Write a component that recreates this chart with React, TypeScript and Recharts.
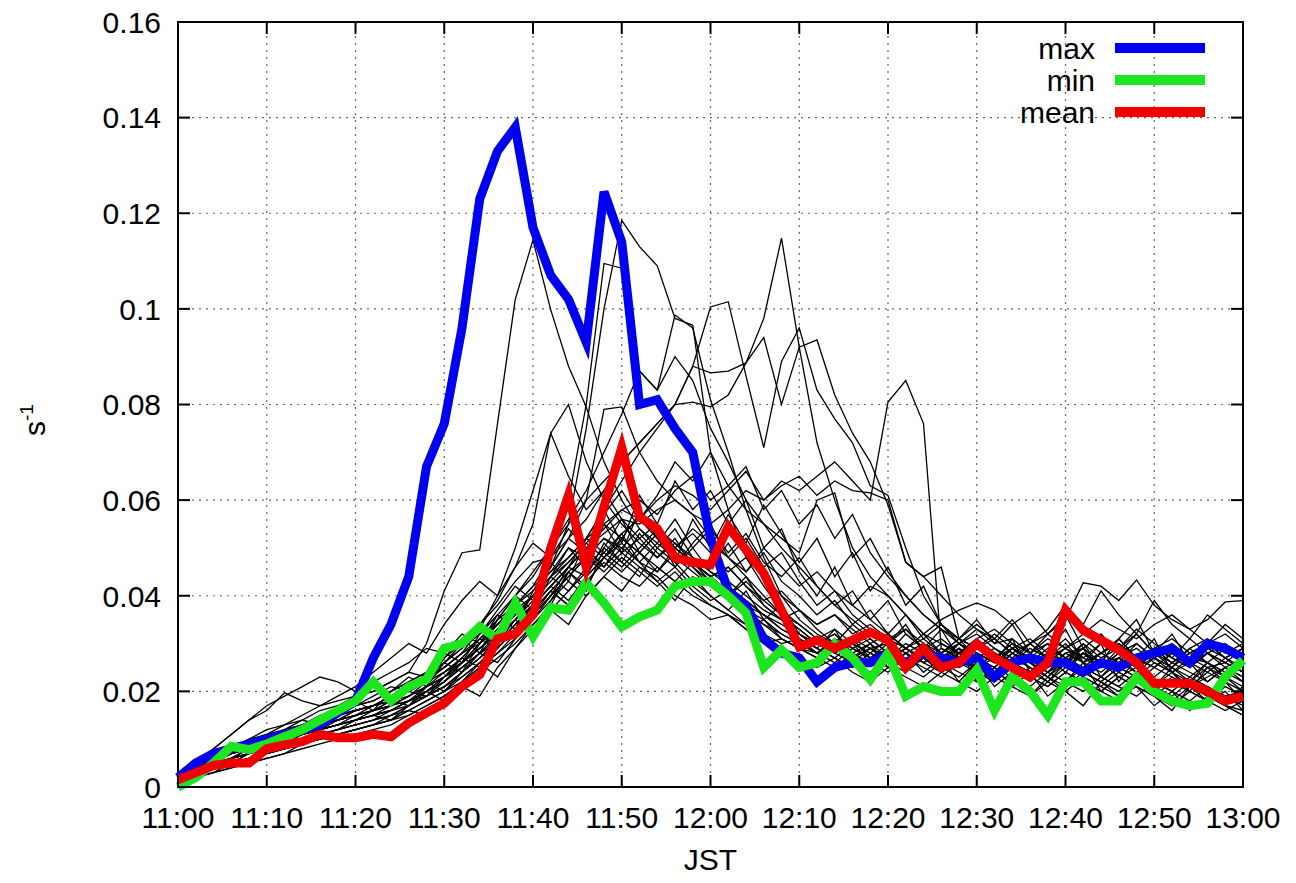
import React from 'react';
import { CartesianGrid, Legend, Line, LineChart, ReferenceArea, XAxis, YAxis } from 'recharts';

// minutes after 11:00 JST, one sample every 2 min
const minutes = [
	0, 2, 4, 6, 8, 10, 12, 14, 16, 18, 20, 22, 24, 26, 28, 30, 32, 34, 36, 38, 40,
	42, 44, 46, 48, 50, 52, 54, 56, 58, 60, 62, 64, 66, 68, 70, 72, 74, 76, 78, 80,
	82, 84, 86, 88, 90, 92, 94, 96, 98, 100, 102, 104, 106, 108, 110, 112, 114, 116, 118, 120,
];
const timeTicks = [0, 10, 20, 30, 40, 50, 60, 70, 80, 90, 100, 110, 120];
const timeLabels = ['11:00', '11:10', '11:20', '11:30', '11:40', '11:50', '12:00', '12:10', '12:20', '12:30', '12:40', '12:50', '13:00'];
const yTicks = [0, 0.02, 0.04, 0.06, 0.08, 0.1, 0.12, 0.14, 0.16];
const yTickLabels = ['0', '0.02', '0.04', '0.06', '0.08', '0.1', '0.12', '0.14', '0.16'];
const legendOrder = ['max', 'min', 'mean'];

const maxSeries = [
	0.002, 0.005, 0.007, 0.008, 0.009, 0.010, 0.011, 0.012, 0.013, 0.0155, 0.018,
	0.027, 0.034, 0.044, 0.067, 0.076, 0.096, 0.123, 0.133, 0.138, 0.117,
	0.107, 0.102, 0.093, 0.1245, 0.114, 0.080, 0.081, 0.075, 0.070, 0.052,
	0.041, 0.038, 0.031, 0.028, 0.027,
	0.022, 0.025, 0.026, 0.026, 0.028, 0.026, 0.028, 0.027, 0.026, 0.027,
	0.023, 0.026, 0.027, 0.026, 0.026, 0.024, 0.026, 0.025, 0.027, 0.028, 0.029, 0.026, 0.030, 0.029, 0.027,
];
const minSeries = [
	0.000, 0.002, 0.005, 0.0085, 0.0078, 0.009, 0.0105, 0.012, 0.014, 0.016, 0.018,
	0.022, 0.018, 0.021, 0.0225, 0.029, 0.030, 0.0335, 0.031, 0.0385, 0.0315,
	0.0375, 0.037, 0.0427, 0.0385, 0.0335, 0.0356, 0.037, 0.042, 0.043, 0.043,
	0.040, 0.0364, 0.025, 0.0287, 0.025,
	0.026, 0.030, 0.027, 0.0225, 0.028, 0.019, 0.021, 0.020, 0.020, 0.0245,
	0.016, 0.023, 0.020, 0.015, 0.022, 0.022, 0.018, 0.018, 0.023, 0.020, 0.018, 0.017, 0.0175, 0.023, 0.0265,
];
const meanSeries = [
	0.0015, 0.003, 0.0045, 0.005, 0.005, 0.008, 0.0088, 0.0095, 0.011, 0.0103, 0.0103,
	0.011, 0.0105, 0.0134, 0.0155, 0.0175, 0.021, 0.0235, 0.031, 0.032, 0.036,
	0.050, 0.061, 0.046, 0.0586, 0.071, 0.0565, 0.054, 0.048, 0.047, 0.0465,
	0.0544, 0.0496, 0.0447, 0.037, 0.0293,
	0.0307, 0.029, 0.0307, 0.0324, 0.0307, 0.025, 0.029, 0.025, 0.026, 0.030,
	0.027, 0.025, 0.023, 0.026, 0.037, 0.0328, 0.0307, 0.0287, 0.026, 0.0217, 0.0217, 0.0217, 0.020, 0.018, 0.019,
];

// individual members (thin black lines)
const member01 = [
	0.002, 0.005, 0.008, 0.011, 0.014, 0.017, 0.019, 0.021, 0.023, 0.022, 0.020,
	0.022, 0.024, 0.026, 0.029, 0.028, 0.032, 0.030, 0.034, 0.038, 0.042,
	0.045, 0.050, 0.048, 0.052, 0.049, 0.046, 0.044, 0.040, 0.038, 0.035,
	0.036, 0.033, 0.030, 0.031, 0.029,
	0.028, 0.031, 0.027, 0.029, 0.030, 0.026, 0.028, 0.027, 0.029, 0.025,
	0.027, 0.030, 0.026, 0.024, 0.028, 0.029, 0.026, 0.027, 0.025, 0.028, 0.030, 0.027, 0.026, 0.029, 0.028,
];
const member02 = [
	0.002, 0.004, 0.006, 0.008, 0.010, 0.011, 0.013, 0.014, 0.016, 0.017, 0.019,
	0.020, 0.022, 0.024, 0.030, 0.041, 0.049, 0.0496, 0.076, 0.102, 0.1144,
	0.0998, 0.088, 0.0795, 0.068, 0.060, 0.054, 0.050, 0.047, 0.043, 0.040,
	0.037, 0.034, 0.032, 0.030, 0.031,
	0.028, 0.030, 0.027, 0.029, 0.026, 0.028, 0.030, 0.027, 0.025, 0.028,
	0.026, 0.029, 0.027, 0.024, 0.026, 0.028, 0.025, 0.027, 0.029, 0.026, 0.024, 0.027, 0.025, 0.026, 0.024,
];
const member03 = [
	0.001, 0.003, 0.005, 0.006, 0.007, 0.008, 0.010, 0.011, 0.012, 0.013, 0.014,
	0.015, 0.016, 0.018, 0.020, 0.022, 0.026, 0.030, 0.033, 0.036, 0.040,
	0.046, 0.055, 0.075, 0.100, 0.1185, 0.113, 0.109, 0.098, 0.0966, 0.070,
	0.058, 0.048, 0.042, 0.037, 0.034,
	0.031, 0.028, 0.030, 0.026, 0.028, 0.025, 0.027, 0.024, 0.026, 0.025,
	0.023, 0.025, 0.027, 0.024, 0.022, 0.025, 0.023, 0.021, 0.024, 0.022, 0.020, 0.023, 0.021, 0.019, 0.020,
];
const member04 = [
	0.002, 0.004, 0.006, 0.007, 0.009, 0.010, 0.011, 0.012, 0.013, 0.015, 0.016,
	0.017, 0.019, 0.021, 0.023, 0.025, 0.028, 0.030, 0.035, 0.038, 0.042,
	0.048, 0.060, 0.080, 0.1095, 0.1085, 0.087, 0.083, 0.0987, 0.096, 0.081,
	0.070, 0.058, 0.048, 0.040, 0.035,
	0.032, 0.030, 0.031, 0.027, 0.029, 0.026, 0.030, 0.027, 0.025, 0.028,
	0.026, 0.029, 0.027, 0.030, 0.025, 0.028, 0.026, 0.031, 0.027, 0.029, 0.026, 0.028, 0.030, 0.027, 0.029,
];
const member05 = [
	0.002, 0.004, 0.005, 0.007, 0.008, 0.009, 0.010, 0.012, 0.013, 0.014, 0.015,
	0.016, 0.017, 0.019, 0.021, 0.023, 0.025, 0.028, 0.030, 0.033, 0.036,
	0.040, 0.046, 0.052, 0.058, 0.064, 0.070, 0.075, 0.080, 0.088, 0.0866,
	0.087, 0.0887, 0.098, 0.1148, 0.092,
	0.072, 0.060, 0.050, 0.044, 0.040, 0.036, 0.032, 0.030, 0.028, 0.031,
	0.028, 0.026, 0.029, 0.027, 0.030, 0.026, 0.028, 0.031, 0.027, 0.025, 0.028, 0.026, 0.029, 0.027, 0.024,
];
const member06 = [
	0.001, 0.003, 0.005, 0.006, 0.008, 0.009, 0.011, 0.012, 0.014, 0.015, 0.017,
	0.018, 0.020, 0.022, 0.024, 0.027, 0.030, 0.034, 0.038, 0.043, 0.047,
	0.048, 0.052, 0.056, 0.062, 0.068, 0.072, 0.076, 0.080, 0.088, 0.1004,
	0.1015, 0.086, 0.071, 0.089, 0.096,
	0.083, 0.077, 0.072, 0.063, 0.061, 0.050, 0.040, 0.034, 0.031, 0.029,
	0.032, 0.029, 0.031, 0.028, 0.026, 0.030, 0.027, 0.029, 0.032, 0.028, 0.026, 0.029, 0.031, 0.028, 0.030,
];
const member07 = [
	0.002, 0.003, 0.005, 0.007, 0.008, 0.010, 0.011, 0.012, 0.013, 0.014, 0.016,
	0.017, 0.018, 0.020, 0.022, 0.024, 0.027, 0.031, 0.035, 0.040, 0.044,
	0.050, 0.055, 0.060, 0.064, 0.068, 0.072, 0.076, 0.080, 0.0805, 0.0795,
	0.082, 0.0887, 0.094, 0.080, 0.092,
	0.0935, 0.082, 0.074, 0.068, 0.059, 0.047, 0.044, 0.040, 0.036, 0.033,
	0.030, 0.031, 0.028, 0.030, 0.027, 0.029, 0.032, 0.028, 0.030, 0.027, 0.029, 0.026, 0.028, 0.030, 0.027,
];
const member08 = [
	0.002, 0.004, 0.006, 0.007, 0.009, 0.010, 0.011, 0.013, 0.014, 0.015, 0.016,
	0.017, 0.019, 0.020, 0.022, 0.024, 0.026, 0.029, 0.032, 0.035, 0.038,
	0.042, 0.046, 0.050, 0.053, 0.056, 0.055, 0.058, 0.060, 0.057, 0.055,
	0.058, 0.062, 0.060, 0.064, 0.062,
	0.065, 0.068, 0.064, 0.060, 0.0805, 0.085, 0.076, 0.029, 0.027, 0.025,
	0.028, 0.026, 0.024, 0.027, 0.025, 0.028, 0.026, 0.023, 0.025, 0.027, 0.024, 0.026, 0.022, 0.025, 0.023,
];
const member09 = [
	0.002, 0.004, 0.005, 0.007, 0.008, 0.009, 0.011, 0.012, 0.013, 0.015, 0.016,
	0.017, 0.018, 0.020, 0.022, 0.025, 0.028, 0.033, 0.040, 0.050, 0.062,
	0.074, 0.080, 0.068, 0.060, 0.055, 0.051, 0.048, 0.052, 0.046, 0.042,
	0.039, 0.036, 0.034, 0.031, 0.029,
	0.027, 0.029, 0.026, 0.024, 0.027, 0.025, 0.023, 0.026, 0.028, 0.024,
	0.022, 0.025, 0.023, 0.021, 0.024, 0.022, 0.020, 0.023, 0.021, 0.019, 0.022, 0.020, 0.018, 0.021, 0.019,
];
const member10 = [
	0.001, 0.003, 0.004, 0.006, 0.007, 0.009, 0.010, 0.011, 0.012, 0.013, 0.014,
	0.015, 0.017, 0.018, 0.020, 0.022, 0.025, 0.028, 0.031, 0.035, 0.040,
	0.046, 0.052, 0.060, 0.079, 0.0795, 0.070, 0.064, 0.060, 0.057, 0.052,
	0.048, 0.044, 0.040, 0.036, 0.033,
	0.030, 0.032, 0.028, 0.030, 0.027, 0.029, 0.026, 0.028, 0.025, 0.027,
	0.024, 0.026, 0.023, 0.025, 0.027, 0.024, 0.022, 0.025, 0.023, 0.026, 0.024, 0.021, 0.023, 0.025, 0.022,
];
const member11 = [
	0.002, 0.004, 0.006, 0.008, 0.009, 0.010, 0.012, 0.013, 0.014, 0.016, 0.017,
	0.018, 0.020, 0.022, 0.024, 0.026, 0.029, 0.032, 0.036, 0.040, 0.045,
	0.050, 0.056, 0.062, 0.070, 0.078, 0.087, 0.083, 0.090, 0.085, 0.075,
	0.068, 0.060, 0.055, 0.050, 0.046,
	0.042, 0.038, 0.035, 0.032, 0.030, 0.033, 0.029, 0.031, 0.028, 0.030,
	0.027, 0.029, 0.026, 0.028, 0.031, 0.027, 0.025, 0.028, 0.026, 0.029, 0.027, 0.025, 0.028, 0.026, 0.024,
];
const member12 = [
	0.002, 0.003, 0.005, 0.006, 0.008, 0.009, 0.010, 0.011, 0.013, 0.014, 0.015,
	0.016, 0.018, 0.019, 0.021, 0.023, 0.026, 0.029, 0.032, 0.036, 0.040,
	0.044, 0.048, 0.052, 0.055, 0.058, 0.060, 0.057, 0.062, 0.065, 0.060,
	0.063, 0.058, 0.055, 0.052, 0.049,
	0.060, 0.0615, 0.048, 0.052, 0.045, 0.040, 0.036, 0.033, 0.031, 0.034,
	0.031, 0.028, 0.030, 0.027, 0.029, 0.026, 0.028, 0.030, 0.027, 0.025, 0.028, 0.026, 0.024, 0.027, 0.025,
];
const member13 = [
	0.001, 0.003, 0.004, 0.006, 0.007, 0.008, 0.010, 0.011, 0.012, 0.013, 0.014,
	0.015, 0.016, 0.018, 0.019, 0.021, 0.024, 0.027, 0.030, 0.034, 0.038,
	0.042, 0.046, 0.050, 0.054, 0.058, 0.056, 0.060, 0.063, 0.061, 0.058,
	0.062, 0.066, 0.060, 0.063, 0.065,
	0.061, 0.064, 0.062, 0.0615, 0.060, 0.047, 0.044, 0.046, 0.031, 0.029,
	0.031, 0.028, 0.026, 0.029, 0.027, 0.025, 0.028, 0.026, 0.030, 0.027, 0.025, 0.028, 0.026, 0.024, 0.027,
];
const member14 = [
	0.002, 0.004, 0.005, 0.007, 0.008, 0.010, 0.011, 0.012, 0.014, 0.015, 0.016,
	0.017, 0.019, 0.021, 0.023, 0.025, 0.028, 0.031, 0.034, 0.038, 0.041,
	0.045, 0.048, 0.052, 0.049, 0.053, 0.056, 0.052, 0.050, 0.054, 0.051,
	0.048, 0.045, 0.050, 0.046, 0.042,
	0.045, 0.041, 0.038, 0.042, 0.040, 0.036, 0.032, 0.035, 0.037, 0.0385,
	0.037, 0.034, 0.0366, 0.032, 0.029, 0.031, 0.028, 0.030, 0.027, 0.029, 0.031, 0.028, 0.030, 0.027, 0.029,
];
const member15 = [
	0.002, 0.003, 0.005, 0.006, 0.007, 0.009, 0.010, 0.011, 0.012, 0.014, 0.015,
	0.016, 0.017, 0.019, 0.021, 0.023, 0.026, 0.029, 0.033, 0.037, 0.040,
	0.044, 0.047, 0.051, 0.048, 0.052, 0.049, 0.053, 0.050, 0.047, 0.044,
	0.046, 0.042, 0.039, 0.041, 0.037,
	0.034, 0.036, 0.033, 0.030, 0.032, 0.029, 0.031, 0.028, 0.030, 0.032,
	0.029, 0.027, 0.030, 0.032, 0.035, 0.0427, 0.042, 0.039, 0.0433, 0.038, 0.035, 0.033, 0.030, 0.032, 0.029,
];
const member16 = [
	0.001, 0.003, 0.004, 0.006, 0.007, 0.008, 0.009, 0.011, 0.012, 0.013, 0.014,
	0.015, 0.016, 0.017, 0.019, 0.021, 0.023, 0.026, 0.029, 0.033, 0.037,
	0.041, 0.045, 0.048, 0.052, 0.050, 0.054, 0.051, 0.048, 0.045, 0.042,
	0.040, 0.043, 0.039, 0.036, 0.034,
	0.031, 0.033, 0.030, 0.028, 0.031, 0.029, 0.027, 0.030, 0.028, 0.031,
	0.033, 0.030, 0.028, 0.031, 0.029, 0.032, 0.035, 0.033, 0.031, 0.034, 0.036, 0.033, 0.035, 0.0387, 0.039,
];
const member17 = [
	0.002, 0.003, 0.004, 0.005, 0.006, 0.007, 0.008, 0.009, 0.010, 0.011, 0.012,
	0.013, 0.014, 0.016, 0.018, 0.020, 0.023, 0.026, 0.030, 0.034, 0.038,
	0.042, 0.046, 0.044, 0.048, 0.051, 0.047, 0.045, 0.049, 0.046, 0.043,
	0.040, 0.037, 0.034, 0.032, 0.030,
	0.028, 0.026, 0.029, 0.027, 0.025, 0.028, 0.026, 0.024, 0.027, 0.025,
	0.023, 0.026, 0.024, 0.022, 0.025, 0.023, 0.021, 0.024, 0.022, 0.020, 0.023, 0.021, 0.019, 0.017, 0.016,
];
const member18 = [
	0.001, 0.002, 0.004, 0.005, 0.006, 0.007, 0.008, 0.009, 0.010, 0.011, 0.012,
	0.013, 0.015, 0.017, 0.019, 0.022, 0.025, 0.028, 0.032, 0.036, 0.040,
	0.044, 0.041, 0.046, 0.050, 0.047, 0.053, 0.049, 0.046, 0.050, 0.045,
	0.042, 0.039, 0.036, 0.033, 0.031,
	0.029, 0.027, 0.025, 0.028, 0.026, 0.024, 0.027, 0.025, 0.023, 0.026,
	0.024, 0.022, 0.025, 0.023, 0.021, 0.024, 0.022, 0.020, 0.023, 0.021, 0.019, 0.022, 0.020, 0.018, 0.021,
];
const member19 = [
	0.002, 0.003, 0.005, 0.006, 0.007, 0.008, 0.009, 0.010, 0.011, 0.012, 0.013,
	0.014, 0.016, 0.018, 0.020, 0.023, 0.026, 0.030, 0.034, 0.038, 0.035,
	0.040, 0.044, 0.048, 0.045, 0.049, 0.052, 0.048, 0.051, 0.047, 0.044,
	0.046, 0.042, 0.038, 0.035, 0.033,
	0.030, 0.032, 0.029, 0.031, 0.028, 0.026, 0.029, 0.027, 0.030, 0.028,
	0.026, 0.029, 0.027, 0.025, 0.028, 0.026, 0.024, 0.027, 0.025, 0.023, 0.026, 0.024, 0.022, 0.025, 0.023,
];
const member20 = [
	0.001, 0.003, 0.004, 0.005, 0.007, 0.008, 0.009, 0.010, 0.011, 0.012, 0.013,
	0.014, 0.015, 0.017, 0.019, 0.021, 0.024, 0.027, 0.031, 0.035, 0.039,
	0.043, 0.047, 0.051, 0.055, 0.052, 0.057, 0.054, 0.050, 0.053, 0.049,
	0.045, 0.048, 0.044, 0.040, 0.037,
	0.034, 0.036, 0.032, 0.034, 0.031, 0.033, 0.030, 0.028, 0.031, 0.029,
	0.027, 0.030, 0.028, 0.026, 0.029, 0.027, 0.030, 0.028, 0.026, 0.029, 0.027, 0.025, 0.028, 0.026, 0.029,
];
const member21 = [
	0.002, 0.004, 0.005, 0.006, 0.008, 0.009, 0.010, 0.011, 0.012, 0.013, 0.014,
	0.015, 0.016, 0.018, 0.021, 0.024, 0.027, 0.031, 0.029, 0.033, 0.037,
	0.041, 0.038, 0.043, 0.047, 0.044, 0.042, 0.046, 0.043, 0.040, 0.038,
	0.036, 0.034, 0.031, 0.029, 0.027,
	0.025, 0.027, 0.024, 0.022, 0.025, 0.023, 0.021, 0.024, 0.022, 0.020,
	0.023, 0.021, 0.019, 0.022, 0.020, 0.023, 0.021, 0.019, 0.022, 0.020, 0.018, 0.021, 0.019, 0.017, 0.015,
];
const member22 = [
	0.001, 0.002, 0.003, 0.005, 0.006, 0.007, 0.008, 0.009, 0.010, 0.011, 0.012,
	0.013, 0.014, 0.015, 0.017, 0.019, 0.022, 0.025, 0.028, 0.032, 0.036,
	0.040, 0.044, 0.048, 0.046, 0.050, 0.047, 0.043, 0.046, 0.042, 0.039,
	0.041, 0.037, 0.035, 0.032, 0.030,
	0.028, 0.031, 0.029, 0.027, 0.030, 0.028, 0.026, 0.029, 0.027, 0.025,
	0.028, 0.026, 0.024, 0.027, 0.025, 0.028, 0.026, 0.024, 0.022, 0.025, 0.023, 0.021, 0.024, 0.022, 0.020,
];
const member23 = [
	0.002, 0.005, 0.008, 0.011, 0.014, 0.016, 0.0197, 0.018, 0.017, 0.018, 0.019,
	0.020, 0.022, 0.024, 0.023, 0.026, 0.029, 0.032, 0.036, 0.033, 0.038,
	0.042, 0.039, 0.044, 0.048, 0.045, 0.049, 0.046, 0.043, 0.047, 0.044,
	0.041, 0.038, 0.036, 0.033, 0.031,
	0.029, 0.027, 0.030, 0.028, 0.026, 0.029, 0.027, 0.025, 0.028, 0.026,
	0.024, 0.027, 0.025, 0.023, 0.026, 0.024, 0.022, 0.025, 0.023, 0.021, 0.024, 0.022, 0.025, 0.023, 0.021,
];
const member24 = [
	0.001, 0.002, 0.003, 0.004, 0.005, 0.006, 0.007, 0.008, 0.009, 0.010, 0.011,
	0.012, 0.013, 0.015, 0.017, 0.019, 0.021, 0.024, 0.027, 0.030, 0.034,
	0.037, 0.041, 0.045, 0.049, 0.046, 0.050, 0.054, 0.051, 0.048, 0.045,
	0.043, 0.040, 0.037, 0.035, 0.032,
	0.030, 0.028, 0.026, 0.029, 0.027, 0.025, 0.028, 0.026, 0.024, 0.022,
	0.025, 0.023, 0.021, 0.024, 0.022, 0.020, 0.023, 0.021, 0.019, 0.022, 0.020, 0.018, 0.021, 0.019, 0.017,
];
const member25 = [
	0.002, 0.003, 0.004, 0.006, 0.007, 0.008, 0.009, 0.010, 0.011, 0.012, 0.013,
	0.014, 0.015, 0.016, 0.018, 0.020, 0.022, 0.025, 0.028, 0.031, 0.035,
	0.039, 0.043, 0.040, 0.044, 0.048, 0.045, 0.042, 0.045, 0.041, 0.038,
	0.036, 0.033, 0.035, 0.031, 0.029,
	0.027, 0.025, 0.028, 0.026, 0.024, 0.027, 0.025, 0.023, 0.026, 0.024,
	0.022, 0.025, 0.023, 0.021, 0.024, 0.022, 0.020, 0.023, 0.021, 0.019, 0.017, 0.020, 0.018, 0.016, 0.018,
];
const member26 = [
	0.002, 0.004, 0.005, 0.007, 0.008, 0.009, 0.011, 0.012, 0.013, 0.014, 0.016,
	0.017, 0.019, 0.021, 0.023, 0.026, 0.030, 0.034, 0.039, 0.046, 0.055,
	0.074, 0.065, 0.058, 0.062, 0.056, 0.052, 0.055, 0.050, 0.047, 0.044,
	0.041, 0.039, 0.036, 0.034, 0.032,
	0.030, 0.028, 0.031, 0.029, 0.027, 0.030, 0.028, 0.026, 0.029, 0.027,
	0.025, 0.028, 0.026, 0.024, 0.027, 0.025, 0.023, 0.026, 0.024, 0.027, 0.025, 0.023, 0.026, 0.024, 0.022,
];
const member27 = [
	0.001, 0.003, 0.004, 0.005, 0.007, 0.008, 0.009, 0.010, 0.012, 0.013, 0.014,
	0.016, 0.018, 0.017, 0.021, 0.026, 0.024, 0.030, 0.036, 0.033, 0.041,
	0.047, 0.043, 0.052, 0.058, 0.051, 0.061, 0.055, 0.064, 0.058, 0.062,
	0.055, 0.060, 0.050, 0.054, 0.045,
	0.040, 0.046, 0.038, 0.035, 0.039, 0.032, 0.029, 0.033, 0.027, 0.030,
	0.026, 0.031, 0.024, 0.028, 0.033, 0.026, 0.030, 0.022, 0.027, 0.031, 0.024, 0.020, 0.025, 0.022, 0.018,
];
const member28 = [
	0.002, 0.004, 0.006, 0.007, 0.009, 0.011, 0.012, 0.014, 0.013, 0.016, 0.018,
	0.016, 0.020, 0.023, 0.021, 0.027, 0.031, 0.028, 0.035, 0.040, 0.037,
	0.044, 0.050, 0.046, 0.055, 0.049, 0.058, 0.052, 0.047, 0.056, 0.050,
	0.057, 0.051, 0.059, 0.053, 0.047,
	0.052, 0.044, 0.049, 0.041, 0.046, 0.038, 0.042, 0.034, 0.031, 0.035,
	0.030, 0.034, 0.028, 0.032, 0.036, 0.029, 0.026, 0.031, 0.035, 0.028, 0.032, 0.026, 0.030, 0.034, 0.031,
];
const member29 = [
	0.001, 0.002, 0.004, 0.005, 0.006, 0.008, 0.009, 0.010, 0.011, 0.012, 0.014,
	0.015, 0.014, 0.017, 0.020, 0.018, 0.022, 0.026, 0.023, 0.029, 0.034,
	0.038, 0.045, 0.041, 0.050, 0.056, 0.049, 0.053, 0.046, 0.051, 0.055,
	0.048, 0.052, 0.046, 0.049, 0.043,
	0.038, 0.041, 0.036, 0.033, 0.030, 0.034, 0.028, 0.025, 0.029, 0.022,
	0.025, 0.021, 0.024, 0.019, 0.022, 0.026, 0.020, 0.018, 0.023, 0.019, 0.016, 0.021, 0.018, 0.020, 0.016,
];
const member30 = [
	0.002, 0.004, 0.005, 0.007, 0.008, 0.010, 0.012, 0.013, 0.015, 0.016, 0.017,
	0.019, 0.021, 0.020, 0.024, 0.028, 0.026, 0.032, 0.037, 0.042, 0.039,
	0.046, 0.052, 0.049, 0.057, 0.062, 0.056, 0.061, 0.068, 0.064, 0.070,
	0.063, 0.067, 0.058, 0.062, 0.055,
	0.059, 0.052, 0.057, 0.049, 0.044, 0.040, 0.036, 0.033, 0.030, 0.027,
	0.029, 0.026, 0.030, 0.027, 0.024, 0.028, 0.025, 0.029, 0.033, 0.030, 0.027, 0.031, 0.028, 0.025, 0.027,
];
const member31 = [
	0.001, 0.002, 0.003, 0.004, 0.005, 0.006, 0.007, 0.009, 0.010, 0.011, 0.012,
	0.013, 0.014, 0.016, 0.015, 0.018, 0.021, 0.019, 0.025, 0.029, 0.033,
	0.037, 0.034, 0.040, 0.044, 0.041, 0.046, 0.043, 0.039, 0.044, 0.040,
	0.037, 0.041, 0.035, 0.038, 0.032,
	0.029, 0.033, 0.027, 0.030, 0.025, 0.028, 0.024, 0.027, 0.022, 0.026,
	0.021, 0.024, 0.019, 0.023, 0.020, 0.017, 0.022, 0.019, 0.021, 0.017, 0.020, 0.016, 0.019, 0.017, 0.015,
];
const member32 = [
	0.002, 0.003, 0.005, 0.006, 0.008, 0.009, 0.010, 0.012, 0.013, 0.014, 0.015,
	0.017, 0.018, 0.020, 0.019, 0.023, 0.027, 0.025, 0.030, 0.035, 0.032,
	0.039, 0.045, 0.042, 0.048, 0.053, 0.047, 0.051, 0.056, 0.050, 0.054,
	0.049, 0.053, 0.047, 0.044, 0.048,
	0.042, 0.038, 0.041, 0.035, 0.032, 0.036, 0.031, 0.034, 0.030, 0.033,
	0.031, 0.035, 0.030, 0.033, 0.038, 0.034, 0.041, 0.036, 0.032, 0.039, 0.034, 0.031, 0.036, 0.033, 0.030,
];
const member33 = [
	0.001, 0.003, 0.005, 0.006, 0.007, 0.008, 0.010, 0.011, 0.012, 0.013, 0.015,
	0.016, 0.017, 0.019, 0.022, 0.020, 0.024, 0.028, 0.026, 0.031, 0.036,
	0.041, 0.038, 0.044, 0.051, 0.047, 0.044, 0.050, 0.054, 0.048, 0.046,
	0.051, 0.045, 0.049, 0.043, 0.040,
	0.036, 0.039, 0.034, 0.037, 0.032, 0.029, 0.032, 0.028, 0.031, 0.027,
	0.024, 0.028, 0.025, 0.022, 0.026, 0.029, 0.023, 0.027, 0.024, 0.021, 0.025, 0.022, 0.026, 0.023, 0.020,
];
const member34 = [
	0.002, 0.004, 0.006, 0.008, 0.010, 0.012, 0.013, 0.015, 0.017, 0.019, 0.021,
	0.024, 0.027, 0.030, 0.028, 0.034, 0.039, 0.043, 0.040, 0.046, 0.051,
	0.048, 0.054, 0.050, 0.046, 0.052, 0.049, 0.045, 0.050, 0.047, 0.043,
	0.040, 0.044, 0.038, 0.035, 0.037,
	0.033, 0.030, 0.034, 0.031, 0.028, 0.032, 0.029, 0.026, 0.030, 0.027,
	0.025, 0.029, 0.026, 0.023, 0.027, 0.030, 0.025, 0.028, 0.032, 0.028, 0.025, 0.029, 0.026, 0.023, 0.026,
];

const members = [
	member01, member02, member03, member04, member05, member06, member07, member08, member09,
	member10, member11, member12, member13, member14, member15, member16, member17, member18,
	member19, member20, member21, member22, member23, member24, member25, member26, member27,
	member28, member29, member30, member31, member32, member33, member34,
];

const data = minutes.map((t, i) => {
	const row: Record<string, number> = { t, max: maxSeries[i], min: minSeries[i], mean: meanSeries[i] };
	members.forEach((m, k) => {
		row['m' + k] = m[i];
	});
	return row;
});

// layout (the chart is pulled up over the body margin so the top label has room)
const CHART_W = 1280;
const CHART_H = 883;
const MARGIN = { top: 22, right: 45, bottom: 0, left: 0 };
const Y_AXIS_W = 170;
const X_AXIS_H = 96;
const PLOT_TOP = MARGIN.top;
const PLOT_RIGHT = CHART_W - MARGIN.right;
const TICK_LEN = 12;
const FONT = '"Liberation Sans", Arial, Helvetica, sans-serif';
const FONT_SIZE = 30;

const YTick = (props: any) => {
	const { x, y, payload } = props;
	const label = yTickLabels[yTicks.indexOf(payload.value)];
	return (
		<g>
			<text x={x - 17} y={y} dy="0.36em" textAnchor="end" fontFamily={FONT} fontSize={FONT_SIZE} fill="#000">
				{label}
			</text>
			<line x1={x} x2={x + TICK_LEN} y1={y} y2={y} stroke="#000" strokeWidth={2} />
			<line x1={PLOT_RIGHT} x2={PLOT_RIGHT - TICK_LEN} y1={y} y2={y} stroke="#000" strokeWidth={2} />
		</g>
	);
};

const XTick = (props: any) => {
	const { x, y, payload } = props;
	const label = timeLabels[timeTicks.indexOf(payload.value)];
	return (
		<g>
			<text x={x} y={y + 41} textAnchor="middle" fontFamily={FONT} fontSize={FONT_SIZE} fill="#000">
				{label}
			</text>
			<line x1={x} x2={x} y1={y} y2={y - TICK_LEN} stroke="#000" strokeWidth={2} />
			<line x1={x} x2={x} y1={PLOT_TOP} y2={PLOT_TOP + TICK_LEN} stroke="#000" strokeWidth={2} />
		</g>
	);
};

const YLabel = () => (
	<text transform="rotate(-90, 37, 420)" x={37} y={420} textAnchor="middle" fontFamily={FONT} fontSize={FONT_SIZE} fill="#000">
		s
		<tspan dy={-12} fontSize={19}>
			-1
		</tspan>
	</text>
);

const LegendBox = (props: any) => {
	const items = (props.payload || [])
		.filter((p: any) => legendOrder.includes(p.value))
		.sort((a: any, b: any) => legendOrder.indexOf(a.value) - legendOrder.indexOf(b.value));
	return (
		<svg width={215} height={110}>
			{items.map((p: any, i: number) => (
				<g key={p.value}>
					<text x={97} y={20 + i * 32} dy="0.36em" textAnchor="end" fontFamily={FONT} fontSize={FONT_SIZE} fill="#000">
						{p.value}
					</text>
					<line x1={117} x2={207} y1={20 + i * 32} y2={20 + i * 32} stroke={p.color} strokeWidth={10} />
				</g>
			))}
		</svg>
	);
};

export default function App() {
	return (
		<div style={{ marginTop: -8 }}>
			<LineChart width={CHART_W} height={CHART_H} data={data} margin={MARGIN}>
				<CartesianGrid stroke="#666" strokeDasharray="2 5" strokeWidth={1.2} />
				<XAxis
					dataKey="t"
					type="number"
					domain={[0, 120]}
					ticks={timeTicks}
					height={X_AXIS_H}
					axisLine={false}
					tickLine={false}
					tickSize={0}
					tickMargin={0}
					tick={<XTick />}
					interval={0}
					label={{ value: 'JST', position: 'insideBottom', offset: 13, fontFamily: FONT, fontSize: FONT_SIZE, fill: '#000' }}
				/>
				<YAxis
					type="number"
					domain={[0, 0.16]}
					ticks={yTicks}
					width={Y_AXIS_W}
					axisLine={false}
					tickLine={false}
					tickSize={0}
					tickMargin={0}
					tick={<YTick />}
					interval={0}
					label={<YLabel />}
				/>
				<ReferenceArea x1={0} x2={120} y1={0} y2={0.16} fill="none" stroke="#000" strokeWidth={2} ifOverflow="visible" />
				{members.map((_, k) => (
					<Line
						key={k}
						dataKey={'m' + k}
						type="linear"
						stroke="#000"
						strokeWidth={1.3}
						dot={false}
						activeDot={false}
						legendType="none"
						isAnimationActive={false}
					/>
				))}
				<Line dataKey="max" name="max" type="linear" stroke="#0000f0" strokeWidth={9} dot={false} activeDot={false} isAnimationActive={false} />
				<Line dataKey="min" name="min" type="linear" stroke="#1ee61e" strokeWidth={9} dot={false} activeDot={false} isAnimationActive={false} />
				<Line dataKey="mean" name="mean" type="linear" stroke="#f00000" strokeWidth={9} dot={false} activeDot={false} isAnimationActive={false} />
				<Legend
					layout="vertical"
					align="center"
					verticalAlign="middle"
					content={<LegendBox />}
					wrapperStyle={{ position: 'absolute', left: 990, top: 28, width: 215, height: 110 }}
				/>
			</LineChart>
		</div>
	);
}
